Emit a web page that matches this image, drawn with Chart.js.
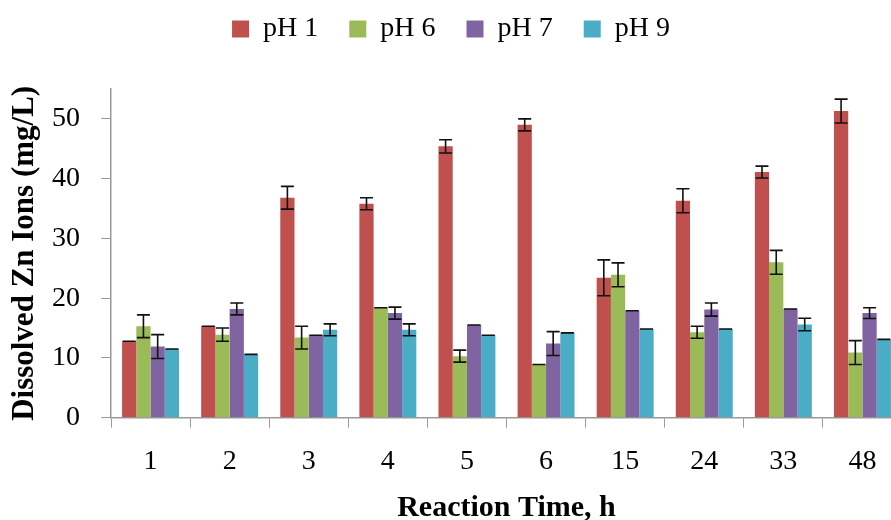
<!DOCTYPE html>
<html>
<head>
<meta charset="utf-8">
<script src="https://cdn.jsdelivr.net/npm/chart.js@4"></script>
<style>
  html, body { margin: 0; padding: 0; background: #fff; overflow: hidden; }
  #wrap { width: 910px; height: 520px; position: relative; }
</style>
</head>
<body>
<div id="wrap"><canvas id="c"></canvas></div>
<script>
const categories = ['1', '2', '3', '4', '5', '6', '15', '24', '33', '48'];
const seriesNames = ['pH 1', 'pH 6', 'pH 7', 'pH 9'];
const ph1 = [12.8, 15.3, 36.8, 35.8, 45.4, 49.0, 23.4, 36.3, 41.1, 51.3];
const ph6 = [15.3, 13.9, 13.4, 18.4, 10.3, 8.9, 23.9, 14.3, 26.0, 10.9];
const ph7 = [11.9, 18.2, 13.8, 17.5, 15.5, 12.4, 17.9, 18.1, 18.2, 17.5];
const ph9 = [11.5, 10.6, 14.7, 14.7, 13.8, 14.2, 14.85, 14.85, 15.6, 13.1];
const err1 = [0, 0, 1.9, 1.0, 1.1, 1.0, 3.0, 2.0, 1.0, 2.0];
const err6 = [1.9, 1.1, 1.9, 0, 1.0, 0, 2.0, 1.0, 2.0, 2.0];
const err7 = [2.0, 1.0, 0, 1.0, 0, 2.0, 0, 1.1, 0, 0.9];
const err9 = [0, 0, 1.0, 1.0, 0, 0, 0, 0, 1.05, 0];
const colors = ['#C0504D', '#9BBB59', '#8064A2', '#4BACC6'];

const values = [ph1, ph6, ph7, ph9];
const errors = [err1, err6, err7, err9];

const FONT = "'Liberation Serif', 'Times New Roman', serif";
const AXIS = '#9a9a9a';

const errorBars = {
  id: 'errorBars',
  afterDatasetsDraw(chart) {
    const ctx = chart.ctx;
    const y = chart.scales.y;
    ctx.save();
    ctx.strokeStyle = '#111';
    ctx.lineWidth = 1.6;
    chart.data.datasets.forEach((ds, i) => {
      const meta = chart.getDatasetMeta(i);
      meta.data.forEach((bar, j) => {
        const v = ds.data[j];
        const e = ds.errors[j];
        const x = bar.x;
        const yt = y.getPixelForValue(v + e);
        const yb = y.getPixelForValue(v - e);
        const hw = 6.5;
        ctx.beginPath();
        if (e > 0) { ctx.moveTo(x, yt); ctx.lineTo(x, yb); }
        ctx.moveTo(x - hw, yt); ctx.lineTo(x + hw, yt);
        ctx.moveTo(x - hw, yb); ctx.lineTo(x + hw, yb);
        ctx.stroke();
      });
    });
    ctx.restore();
  }
};

// add space below the legend
const legendGap = {
  id: 'legendGap',
  beforeInit(chart) {
    const lg = chart.legend;
    if (!lg) return;
    const orig = lg.fit;
    lg.fit = function () { orig.call(this); this.height += 36; };
  }
};

new Chart(document.getElementById('c'), {
  type: 'bar',
  data: {
    labels: categories,
    datasets: seriesNames.map((name, i) => ({
      label: name,
      data: values[i],
      errors: errors[i],
      backgroundColor: colors[i],
      borderWidth: 0,
      categoryPercentage: 0.72,
      barPercentage: 1.0
    }))
  },
  options: {
    responsive: true,
    maintainAspectRatio: false,
    animation: false,
    layout: { padding: { left: 0, right: 8, top: -16, bottom: -3 } },
    plugins: {
      tooltip: { enabled: false },
      legend: {
        position: 'top',
        labels: {
          font: { family: FONT, size: 28 },
          color: '#000',
          boxWidth: 17,
          boxHeight: 17,
          padding: 31
        }
      }
    },
    scales: {
      x: {
        grid: { display: true, drawOnChartArea: false, drawTicks: true, tickLength: 10, color: AXIS, offset: true },
        border: { display: true, color: AXIS, width: 1.5 },
        ticks: { font: { family: FONT, size: 28 }, color: '#000', padding: 17, maxRotation: 0 },
        title: {
          display: true,
          text: 'Reaction Time, h',
          font: { family: FONT, size: 30, weight: 'bold', lineHeight: 1.0 },
          color: '#000',
          padding: { top: -2.3, bottom: 0 }
        }
      },
      y: {
        min: 0,
        max: 55,
        grid: { display: true, drawOnChartArea: false, drawTicks: true, tickLength: 10, color: AXIS },
        border: { display: true, color: AXIS, width: 1.5 },
        ticks: { stepSize: 10, includeBounds: false, font: { family: FONT, size: 28 }, color: '#000', padding: 21 },
        title: {
          display: true,
          text: 'Dissolved Zn Ions (mg/L)',
          font: { family: FONT, size: 31, weight: 'bold', lineHeight: 1.0 },
          color: '#000',
          padding: { top: 9.5, bottom: -9.5 }
        }
      }
    }
  },
  plugins: [errorBars, legendGap]
});
</script>
</body>
</html>
